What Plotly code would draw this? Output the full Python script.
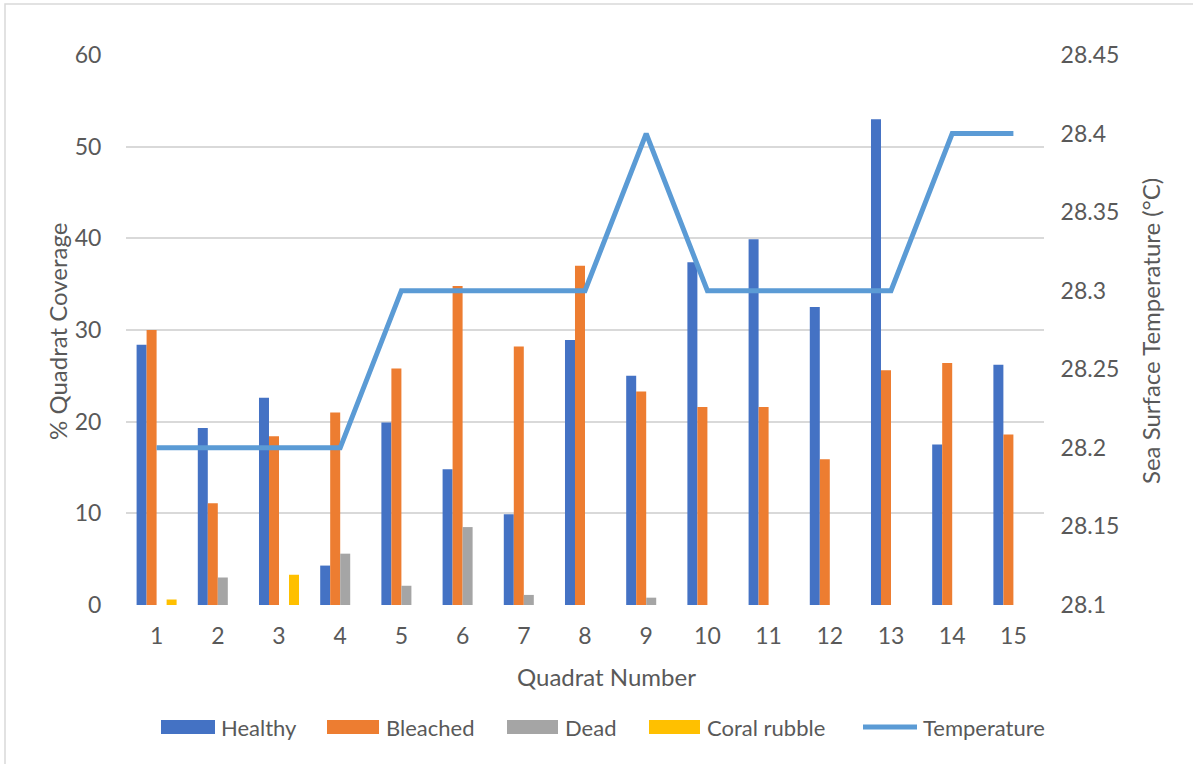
import plotly.graph_objects as go

quadrats = list(range(1, 16))
healthy = [28.4, 19.3, 22.6, 4.3, 19.9, 14.8, 9.9, 28.9, 25.0, 37.4, 39.9, 32.5, 53.0, 17.5, 26.2]
bleached = [30.0, 11.1, 18.4, 21.0, 25.8, 34.8, 28.2, 37.0, 23.3, 21.6, 21.6, 15.9, 25.6, 26.4, 18.6]
dead = [0, 3.0, 0, 5.6, 2.1, 8.5, 1.1, 0, 0.8, 0, 0, 0, 0, 0, 0]
rubble = [0.6, 0, 3.3, 0, 0, 0, 0, 0, 0, 0, 0, 0, 0, 0, 0]
temperature = [28.2, 28.2, 28.2, 28.2, 28.3, 28.3, 28.3, 28.3, 28.4, 28.3, 28.3, 28.3, 28.3, 28.4, 28.4]

left_ticks = [0, 10, 20, 30, 40, 50, 60]
right_ticks = [28.1, 28.15, 28.2, 28.25, 28.3, 28.35, 28.4, 28.45]
right_labels = ["28.1", "28.15", "28.2", "28.25", "28.3", "28.35", "28.4", "28.45"]

series = [
    ("Healthy", healthy, "#4472C4"),
    ("Bleached", bleached, "#ED7D31"),
    ("Dead", dead, "#A5A5A5"),
    ("Coral rubble", rubble, "#FFC000"),
]
line_color = "#5B9BD5"
text_color = "#595959"
grid_color = "#D9D9D9"
FONT = "Lato"
FS = 23
FS_LEG = 22
FS_TITLE = 24

fig = go.Figure()
for name, vals, col in series:
    fig.add_trace(go.Bar(x=quadrats, y=vals, name=name, marker=dict(color=col, line=dict(width=0)),
                         showlegend=False))
fig.add_trace(go.Scatter(x=quadrats, y=temperature, name="Temperature", mode="lines",
                         line=dict(color=line_color, width=5), yaxis="y2", showlegend=False))

W, H = 1193, 764
PL, PT, PR, PB = 126, 55, 1044, 605  # plot area in window pixels
L, T, R, B = PL, PT, W - PR, H - PB
pw, ph = PR - PL, PB - PT


def px_x(x):
    return (x - PL) / pw


def px_y(y):
    return (PB - y) / ph


shapes = []
annotations = []

# chart border
shapes.append(dict(type="rect", xref="paper", yref="paper", x0=px_x(5), x1=px_x(1205), y0=px_y(775), y1=px_y(4),
                   line=dict(color=grid_color, width=1.5), fillcolor="rgba(0,0,0,0)", layer="below"))

# custom legend
legend_items = [
    ("Healthy", "#4472C4", 161, 215, 219, "bar"),
    ("Bleached", "#ED7D31", 327, 379, 384, "bar"),
    ("Dead", "#A5A5A5", 507, 558, 563, "bar"),
    ("Coral rubble", "#FFC000", 649, 700, 705, "bar"),
    ("Temperature", line_color, 863, 917, 921, "line"),
]
ly = 727
for name, col, x0, x1, tx, kind in legend_items:
    if kind == "bar":
        shapes.append(dict(type="rect", xref="paper", yref="paper", x0=px_x(x0), x1=px_x(x1),
                           y0=px_y(ly + 7), y1=px_y(ly - 7), fillcolor=col, line=dict(width=0)))
    else:
        shapes.append(dict(type="line", xref="paper", yref="paper", x0=px_x(x0), x1=px_x(x1),
                           y0=px_y(ly), y1=px_y(ly), line=dict(color=col, width=5)))
    annotations.append(dict(text=name, xref="paper", yref="paper", x=px_x(tx), y=px_y(ly),
                            xanchor="left", yanchor="middle", showarrow=False,
                            font=dict(family=FONT, size=FS_LEG, color=text_color)))

# axis titles
annotations.append(dict(text="% Quadrat Coverage", xref="paper", yref="paper", x=px_x(57), y=px_y(332),
                        textangle=-90, showarrow=False, xanchor="center", yanchor="middle",
                        font=dict(family=FONT, size=FS_TITLE, color=text_color)))
annotations.append(dict(text="Sea Surface Temperature (°C)", xref="paper", yref="paper", x=px_x(1150), y=px_y(331),
                        textangle=-90, showarrow=False, xanchor="center", yanchor="middle",
                        font=dict(family=FONT, size=FS_TITLE, color=text_color)))
annotations.append(dict(text="Quadrat Number", xref="paper", yref="paper", x=px_x(606), y=px_y(676),
                        showarrow=False, xanchor="center", yanchor="middle",
                        font=dict(family=FONT, size=FS_TITLE, color=text_color)))

fig.update_layout(
    width=W, height=H,
    margin=dict(l=L, r=R, t=T, b=B, pad=0),
    paper_bgcolor="white", plot_bgcolor="white",
    barmode="group", bargap=0.346, bargroupgap=0,
    font=dict(family=FONT, size=FS, color=text_color),
    shapes=shapes, annotations=annotations,
    xaxis=dict(range=[0.5, 15.5], tickvals=quadrats, ticktext=[str(q) for q in quadrats],
               showgrid=False, zeroline=False, showline=False,
               ticks="outside", ticklen=10, tickcolor="rgba(0,0,0,0)",
               tickfont=dict(family=FONT, size=FS, color=text_color)),
    yaxis=dict(range=[0, 60], tickvals=left_ticks, showgrid=True, gridcolor=grid_color, gridwidth=1.5,
               zeroline=False, showline=False, ticks="outside", ticklen=19, tickcolor="rgba(0,0,0,0)",
               tickfont=dict(family=FONT, size=FS, color=text_color)),
    yaxis2=dict(range=[28.1, 28.45], tickvals=right_ticks, ticktext=right_labels, overlaying="y", side="right",
                showgrid=False, zeroline=False, showline=False, ticks="outside", ticklen=11,
                tickcolor="rgba(0,0,0,0)", tickfont=dict(family=FONT, size=FS, color=text_color)),
)

fig.write_html("out.html", config={"displayModeBar": False},
               post_script="document.body.style.margin='0';document.body.style.overflow='hidden';")
